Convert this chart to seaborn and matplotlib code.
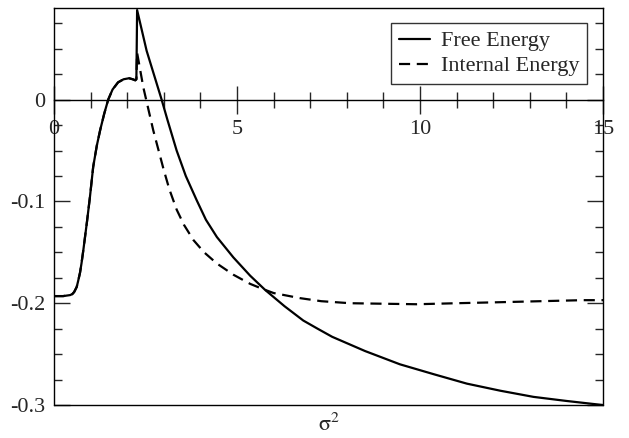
import matplotlib
matplotlib.use("Agg")
import matplotlib.pyplot as plt
from matplotlib.ticker import MultipleLocator
import seaborn as sns

# values
sigma2_free = [0.0, 0.25, 0.44, 0.50, 0.55, 0.62, 0.66, 0.71, 0.75, 0.80, 0.85, 0.90, 0.98,
               1.07, 1.17, 1.26, 1.37, 1.48, 1.60, 1.75, 1.90, 2.05, 2.15, 2.22, 2.25,
               2.27, 2.53, 2.94, 3.10, 3.35, 3.60, 3.90, 4.15, 4.45, 4.90, 5.36, 5.77,
               6.30, 6.81, 7.2, 7.6, 8.5, 9.45, 10.4, 11.28, 12.2, 13.1, 14.0, 14.74, 15.0]
free_energy = [-0.193, -0.193, -0.192, -0.191, -0.189, -0.184, -0.178, -0.170, -0.161,
               -0.148, -0.134, -0.120, -0.096, -0.066, -0.045, -0.030, -0.014, 0.0, 0.010,
               0.017, 0.020, 0.021, 0.020, 0.019, 0.020, 0.088, 0.048, 0.0, -0.020,
               -0.050, -0.075, -0.099, -0.118, -0.135, -0.155, -0.173, -0.187, -0.203,
               -0.217, -0.225, -0.233, -0.247, -0.260, -0.270, -0.279, -0.286, -0.292,
               -0.296, -0.299, -0.300]

sigma2_int = [0.0, 0.25, 0.44, 0.50, 0.55, 0.62, 0.66, 0.71, 0.75, 0.80, 0.85, 0.90, 0.98,
              1.07, 1.17, 1.26, 1.37, 1.48, 1.60, 1.75, 1.90, 2.05, 2.15, 2.22, 2.25,
              2.27, 2.44, 2.71, 2.99, 3.15, 3.35, 3.55, 3.81, 4.10, 4.45, 4.90, 5.36,
              5.70, 6.0, 6.72, 7.3, 8.09, 9.91, 11.0, 12.19, 13.3, 14.45, 15.0]
internal_energy = [-0.193, -0.193, -0.192, -0.191, -0.189, -0.184, -0.178, -0.170, -0.161,
                   -0.148, -0.134, -0.120, -0.096, -0.066, -0.045, -0.030, -0.014, 0.0,
                   0.010, 0.017, 0.020, 0.021, 0.020, 0.019, 0.020, 0.046, 0.012, -0.030,
                   -0.068, -0.088, -0.108, -0.123, -0.138, -0.150, -0.161, -0.172, -0.181,
                   -0.186, -0.190, -0.195, -0.198, -0.200, -0.201, -0.200, -0.199, -0.198,
                   -0.197, -0.197]

sns.set_style("white")
plt.rcParams["font.family"] = ["Liberation Serif", "DejaVu Serif"]
plt.rcParams["mathtext.fontset"] = "stix"
plt.rcParams["font.size"] = 16

fig = plt.figure(figsize=(6.29, 4.38), dpi=100)
ax = fig.add_axes([0.0859, 0.0753, 0.8728, 0.9064])

sns.lineplot(x=sigma2_free, y=free_energy, ax=ax, color="black", lw=1.6,
             sort=False, estimator=None, label="Free Energy")
sns.lineplot(x=sigma2_int, y=internal_energy, ax=ax, color="black", lw=1.6,
             linestyle=(0, (5, 3)), sort=False, estimator=None, label="Internal Energy")

ax.set_xlim(0, 15)
ax.set_ylim(-0.3, 0.09)

# x axis runs through y = 0, box closed at the bottom by a plain line
ax.spines["bottom"].set_position(("data", 0))
for s in ax.spines.values():
    s.set_color("black")
    s.set_linewidth(1.0)
ax.axhline(-0.3, color="black", lw=1.0, clip_on=False)

ax.xaxis.set_major_locator(MultipleLocator(5))
ax.xaxis.set_minor_locator(MultipleLocator(1))
ax.yaxis.set_major_locator(MultipleLocator(0.1))
ax.yaxis.set_minor_locator(MultipleLocator(0.025))
ax.yaxis.set_major_formatter(plt.FuncFormatter(lambda v, p: "0" if abs(v) < 1e-9 else f"{v:.1f}"))

ax.tick_params(axis="x", which="major", direction="inout", length=20, width=1, pad=5,
               bottom=True, top=False, labelsize=16)
ax.tick_params(axis="x", which="minor", direction="inout", length=11, width=1,
               bottom=True, top=False)
ax.tick_params(axis="y", which="major", direction="in", length=11.5, width=1, pad=6,
               left=True, right=True, labelsize=16)
ax.tick_params(axis="y", which="minor", direction="in", length=6, width=1,
               left=True, right=True)

ax.set_xlabel("")
ax.set_ylabel("")
ax.text(0.5, -0.022, r"$\mathrm{\sigma}^{2}$", transform=ax.transAxes,
        ha="center", va="top", fontsize=16)

leg = ax.legend(loc="upper right", bbox_to_anchor=(0.971, 0.962), borderaxespad=0,
                frameon=True, fancybox=False, handlelength=1.4, handletextpad=0.5,
                borderpad=0.35, labelspacing=0.2, fontsize=16)
leg.get_frame().set_edgecolor("black")
leg.get_frame().set_linewidth(1.0)

fig.savefig("out.png", dpi=100)
